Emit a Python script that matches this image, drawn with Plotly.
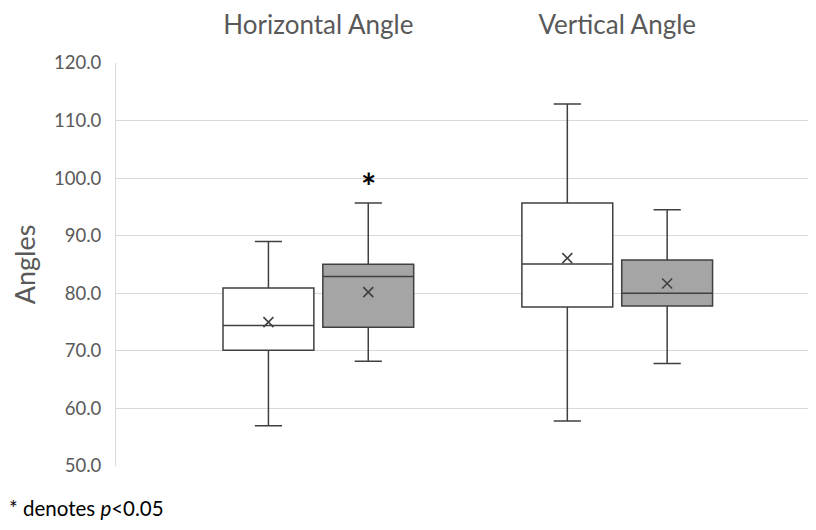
import plotly.graph_objects as go

categories = ["Horizontal Angle", "Vertical Angle"]

# Series 1 (white boxes)
s1_q1 = [70.1, 77.6]
s1_median = [74.4, 85.1]
s1_q3 = [80.9, 95.7]
s1_lower = [57.0, 57.8]
s1_upper = [89.0, 112.9]
s1_mean = [75.0, 86.1]

# Series 2 (gray boxes)
s2_q1 = [74.1, 77.8]
s2_median = [82.9, 80.0]
s2_q3 = [85.05, 85.8]
s2_lower = [68.2, 67.8]
s2_upper = [95.7, 94.5]
s2_mean = [80.2, 81.7]

y_ticks = [50, 60, 70, 80, 90, 100, 110, 120]
sig_marker_value = 98.6

FONT = "Lato"
GRAY_TXT = "#595959"
LINE = "#404040"
offset = 0.167
bw = 0.304

idx = list(range(len(categories)))
x1 = [i - offset for i in idx]
x2 = [i + offset for i in idx]

fig = go.Figure()
for xs, q1, med, q3, lo, hi, fill in [
    (x1, s1_q1, s1_median, s1_q3, s1_lower, s1_upper, "#ffffff"),
    (x2, s2_q1, s2_median, s2_q3, s2_lower, s2_upper, "#a5a5a5"),
]:
    fig.add_trace(go.Box(
        x=xs, q1=q1, median=med, q3=q3, lowerfence=lo, upperfence=hi,
        width=bw, whiskerwidth=0.3, fillcolor=fill,
        line=dict(color=LINE, width=1.5), showlegend=False, boxpoints=False,
    ))

for xs, mean in [(x1, s1_mean), (x2, s2_mean)]:
    fig.add_trace(go.Scatter(
        x=xs, y=mean, mode="markers", showlegend=False,
        marker=dict(symbol="x-thin-open", size=10, color=LINE,
                    line=dict(color=LINE, width=1.6)),
    ))

fig.add_annotation(x=x2[0], y=sig_marker_value, xref="x", yref="y", text="<b>*</b>",
                   showarrow=False, font=dict(family=FONT, size=36, color="#000000"),
                   yanchor="middle")

plot_w = 700
plot_h = 406
fig.add_annotation(x=-108 / plot_w, y=-42 / plot_h, xref="paper", yref="paper",
                   text="* denotes <i>p</i><0.05", showarrow=False,
                   xanchor="left", yanchor="middle", borderpad=0,
                   font=dict(family=FONT, size=20.5, color="#000000"))

fig.update_layout(
    width=808, height=522,
    margin=dict(l=108, r=0, t=52, b=64),
    plot_bgcolor="white", paper_bgcolor="white",
    font=dict(family=FONT, color=GRAY_TXT),
    xaxis=dict(
        range=[-0.677, 1.665], tickvals=idx, ticktext=categories, side="top",
        showgrid=False, zeroline=False, showline=False,
        ticks="", tickfont=dict(size=26, color=GRAY_TXT), ticklabelstandoff=23,
    ),
    yaxis=dict(
        range=[50, 120], tickvals=y_ticks, tickformat=".1f",
        showgrid=True, gridcolor="#d9d9d9", gridwidth=1,
        zeroline=False, showline=True, linecolor="#d9d9d9", linewidth=1,
        ticks="", ticklabelstandoff=10,
        tickfont=dict(size=18.5, color=GRAY_TXT),
        title=dict(text="Angles", font=dict(size=27, color=GRAY_TXT), standoff=10),
    ),
)

fig.write_html("out.html")
